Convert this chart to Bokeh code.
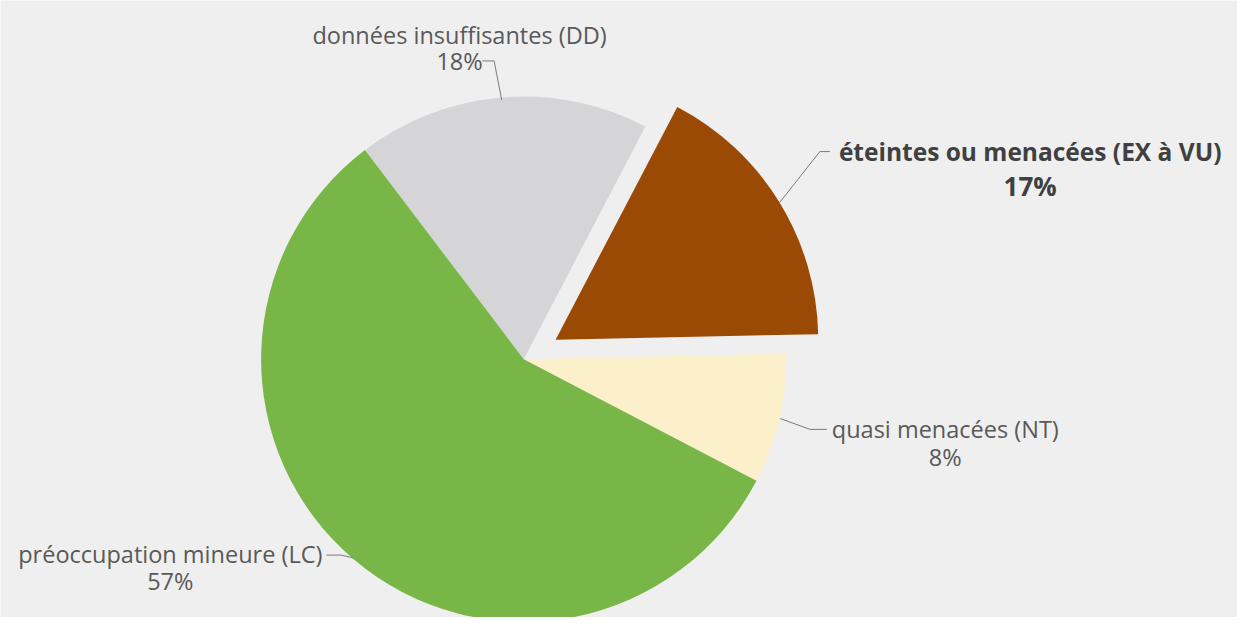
import numpy as np
from bokeh.plotting import figure
from bokeh.models import Range1d
from bokeh.core.properties import value
from bokeh.embed import file_html
from bokeh.resources import INLINE

# ---- data (anticlockwise order, starting from the lower right) ----
categories = ["quasi menacées (NT)", "éteintes ou menacées (EX à VU)",
              "données insuffisantes (DD)", "préoccupation mineure (LC)"]
percent_labels = ["8%", "17%", "18%", "57%"]
values = [8, 17, 18, 57]
colors = ["#fbf0c9", "#9a4a05", "#d5d5d7", "#79b648"]
exploded = [False, True, False, False]

W, H = 1237, 617
RW, RH = 1253, 633          # reference frame in data units
BG = "#efefef"

def px(x, y):
    """reference pixel -> data coordinates (y up)"""
    return x, RH - y

p = figure(width=W, height=H, x_range=Range1d(0, RW), y_range=Range1d(0, RH),
           output_backend="svg", toolbar_location=None, min_border=0,
           background_fill_color=BG, border_fill_color=BG, outline_line_color=None)
p.axis.visible = False
p.grid.visible = False

cx, cy = px(530, 368)
R = 266
start_offset = np.deg2rad(-27.6)
vals = np.array(values, dtype=float)
frac = vals / vals.sum()
ends = start_offset + np.cumsum(frac) * 2 * np.pi
starts = ends - frac * 2 * np.pi
mids = (starts + ends) / 2
explode_d = 38

xs, ys = [], []
for m, e in zip(mids, exploded):
    d = explode_d if e else 0
    xs.append(cx + d * np.cos(m))
    ys.append(cy + d * np.sin(m))

p.wedge(x=xs, y=ys, radius=R, start_angle=list(starts), end_angle=list(ends),
        fill_color=colors, line_color=None)

# ---- leader lines: start at slice mid-angle on the rim ----
elbows = [((820, 440), (837, 440)),
          ((830, 155), (840, 155)),
          ((500, 62), (488, 62)),
          ((345, 569), (330, 569))]
for i, (el, en) in enumerate(elbows):
    sx = xs[i] + (R + 1) * np.cos(mids[i])
    sy = ys[i] + (R + 1) * np.sin(mids[i])
    ex, ey = px(*el)
    nx, ny = px(*en)
    p.line([sx, ex, nx], [sy, ey, ny], line_color="#7a7a7a", line_width=1)

# ---- labels ----
font = value("Open Sans")
label_pos = [(957, 440, 468), (1043, 155, 190), (465, 35, 62), (172, 568, 596)]
for i, (lx, ly1, ly2) in enumerate(label_pos):
    bold = exploded[i]
    x1, y1 = px(lx, ly1)
    x2, y2 = px(lx, ly2)
    p.text([x1], [y1], text=[categories[i]], text_align="center",
           text_baseline="alphabetic", text_font=font,
           text_font_size="24.5px" if bold else "23.5px",
           text_font_style="bold" if bold else "normal",
           text_color="#404040" if bold else "#595959")
    p.text([x2], [y2], text=[percent_labels[i]], text_align="center",
           text_baseline="alphabetic", text_font=font,
           text_font_size="26px" if bold else "23.5px",
           text_font_style="bold" if bold else "normal",
           text_color="#404040" if bold else "#595959")

open("out.html", "w").write(file_html(p, INLINE))
